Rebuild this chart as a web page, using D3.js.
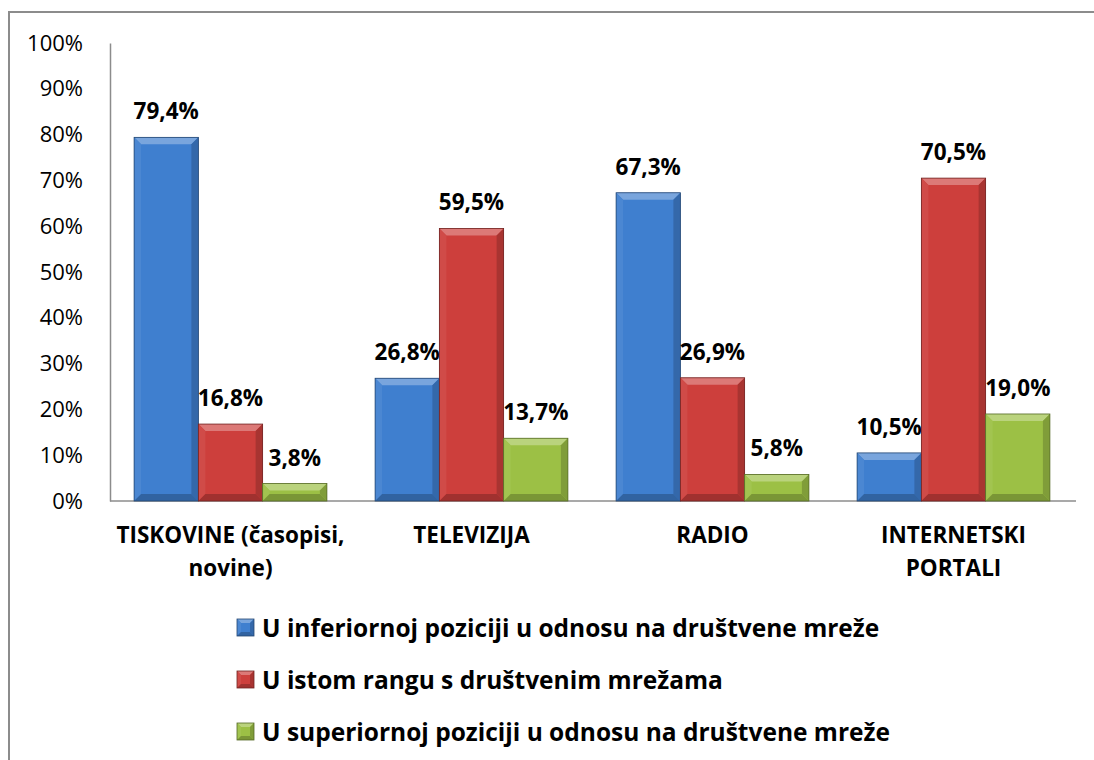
<!DOCTYPE html>
<html><head><meta charset="utf-8">
<script src="https://cdn.jsdelivr.net/npm/d3@7"></script>
<style>
html,body{margin:0;padding:0;background:#fff;}
svg text{font-family:"Open Sans",Lato,sans-serif;fill:#000;}
</style></head>
<body><svg id="c" width="1094" height="760"></svg>
<script>
const categories = [["TISKOVINE (časopisi,","novine)"],["TELEVIZIJA"],["RADIO"],["INTERNETSKI","PORTALI"]];
const seriesNames = ["U inferiornoj poziciji u odnosu na društvene mreže","U istom rangu s društvenim mrežama","U superiornoj poziciji u odnosu na društvene mreže"];
const inferior = [79.4, 26.8, 67.3, 10.5];
const sameRank = [16.8, 59.5, 26.9, 70.5];
const superior = [3.8, 13.7, 5.8, 19.0];
const yTicks = [0,10,20,30,40,50,60,70,80,90,100];
const colors = ["#3f7fcf","#cd3f3c","#9cc045"];

const series = [inferior, sameRank, superior];
const svg = d3.select("#c");
svg.append("rect").attr("x",9).attr("y",12).attr("width",1200).attr("height",900)
  .attr("fill","none").attr("stroke","#8c8c8c").attr("stroke-width",2);

const x0 = 110, x1 = 1074, yTop = 43, yBot = 501;
const x = d3.scaleBand().domain(d3.range(categories.length)).range([x0,x1]).paddingInner(0.2).paddingOuter(0.1);
const xs = d3.scaleBand().domain(d3.range(series.length)).range([0,x.bandwidth()]);
const y = d3.scaleLinear().domain([0,100]).range([yBot,yTop]);

// y axis
const ya = svg.append("g").attr("transform",`translate(${x0},0)`)
  .call(d3.axisLeft(y).tickValues(yTicks).tickFormat(d=>d+"%").tickSize(0).tickPadding(27));
ya.select(".domain").attr("stroke","#8c8c8c").attr("stroke-width",1.5);
ya.selectAll("text").attr("font-size",22).style("font-family","'Open Sans',sans-serif");

// baseline
svg.append("line").attr("x1",x0).attr("x2",x1+2).attr("y1",yBot).attr("y2",yBot).attr("stroke","#8c8c8c").attr("stroke-width",1.5);

function shade(c,k){ return k>0 ? d3.interpolateRgb(c,"#fff")(k) : d3.interpolateRgb(c,"#000")(-k); }

function bevel(g, bx, by, bw, bh, c, b){
  b = Math.min(b, bh/2, bw/2);
  g.append("rect").attr("x",bx).attr("y",by).attr("width",bw).attr("height",bh).attr("fill",c);
  const pts = (a)=>a.map(p=>p.join(",")).join(" ");
  g.append("polygon").attr("points",pts([[bx,by],[bx+bw,by],[bx+bw-b,by+b],[bx+b,by+b]])).attr("fill",shade(c,0.3));
  g.append("polygon").attr("points",pts([[bx,by],[bx+b,by+b],[bx+b,by+bh-b],[bx,by+bh]])).attr("fill",shade(c,0.06));
  g.append("polygon").attr("points",pts([[bx+bw,by],[bx+bw,by+bh],[bx+bw-b,by+bh-b],[bx+bw-b,by+b]])).attr("fill",shade(c,-0.18));
  g.append("polygon").attr("points",pts([[bx,by+bh],[bx+b,by+bh-b],[bx+bw-b,by+bh-b],[bx+bw,by+bh]])).attr("fill",shade(c,-0.22));
  g.append("rect").attr("x",bx).attr("y",by).attr("width",bw).attr("height",bh).attr("fill","none").attr("stroke",shade(c,-0.45)).attr("stroke-width",0.8);
}

series.forEach((vals,si)=>{
  vals.forEach((v,ci)=>{
    const bx = x(ci)+xs(si), bw = xs.bandwidth();
    const g = svg.append("g");
    bevel(g, bx, y(v), bw, y(0)-y(v), colors[si], 7);
    svg.append("text").attr("x",bx+bw/2).attr("y",y(v)-18).attr("text-anchor","middle")
      .attr("font-size",22.5).attr("font-weight","bold").text(v.toFixed(1).replace(".",",")+"%");
  });
});

// category labels
categories.forEach((lines,ci)=>{
  const t = svg.append("text").attr("text-anchor","middle").attr("font-size",22.5).attr("font-weight","bold");
  lines.forEach((l,li)=>{
    t.append("tspan").attr("x",x(ci)+x.bandwidth()/2).attr("y",543+li*33).text(l);
  });
});

// legend
seriesNames.forEach((n,si)=>{
  const ly = 628+si*52;
  const g = svg.append("g");
  bevel(g, 237, ly-9, 17, 17, colors[si], 4);
  svg.append("text").attr("x",262).attr("y",ly+9).attr("font-size",24.5).attr("font-weight","bold").text(n);
});
</script></body></html>
